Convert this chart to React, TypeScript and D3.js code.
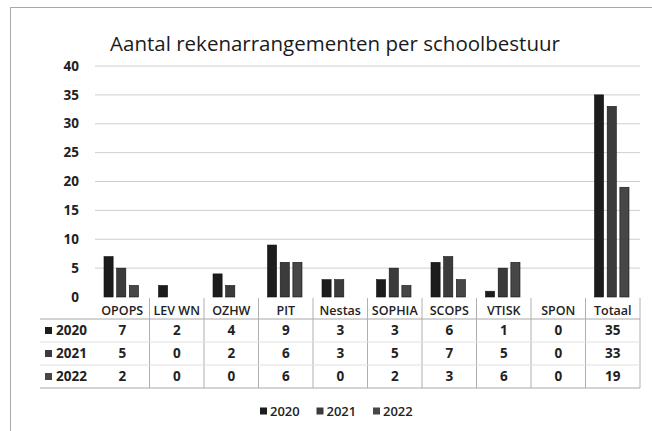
import React from 'react'
import * as d3 from 'd3'

const categories = ['OPOPS', 'LEV WN', 'OZHW', 'PIT', 'Nestas', 'SOPHIA', 'SCOPS', 'VTISK', 'SPON', 'Totaal']
const seriesNames = ['2020', '2021', '2022']
const values2020 = [7, 2, 4, 9, 3, 3, 6, 1, 0, 35]
const values2021 = [5, 0, 2, 6, 3, 5, 7, 5, 0, 33]
const values2022 = [2, 0, 0, 6, 0, 2, 3, 6, 0, 19]
const yTicks = [0, 5, 10, 15, 20, 25, 30, 35, 40]

const seriesValues = [values2020, values2021, values2022]
const colors = ['#1c1c1c', '#3b3b3b', '#474747']

const W = 652
const H = 431
const left = 95
const right = 640
const top = 66
const base = 297
const rowTop = 319
const rowH = 23
const font = "'Open Sans', 'Liberation Sans', sans-serif"

export default function App() {
  const x0 = d3.scaleBand<string>().domain(categories).range([left, right]).padding(0)
  const x1 = d3.scaleBand<string>()
    .domain(seriesNames)
    .range([9, x0.bandwidth() - 11])
    .paddingInner(0.28)
  const y = d3.scaleLinear().domain([0, 40]).range([base, top])

  return (
    <svg width={W} height={H} style={{ position: 'absolute', left: 0, top: 0, background: '#fff' }}
      fontFamily={font}>
      {/* outer frame (cut off at right and bottom) */}
      <line x1={10} x2={W} y1={7.5} y2={7.5} stroke="#a8a8a8" />
      <line x1={10.5} x2={10.5} y1={7} y2={H} stroke="#a8a8a8" />

      <text x={335} y={51} textAnchor="middle" fontSize={20.5} fill="#1a1a1a">
        Aantal rekenarrangementen per schoolbestuur
      </text>

      {/* grid + y labels */}
      {yTicks.map(t => (
        <g key={t}>
          {t > 0 && (
            <line x1={left} x2={right} y1={y(t)} y2={y(t)} stroke="#cfcfcf" strokeWidth={1} />
          )}
          <text x={79} y={y(t)} dy="0.35em" textAnchor="end" fontSize={13.5} fontWeight={700} fill="#222">
            {t}
          </text>
        </g>
      ))}

      {/* bars */}
      {categories.map((c, i) => (
        <g key={c} transform={`translate(${x0(c)},0)`}>
          {seriesNames.map((s, k) => {
            const v = seriesValues[k][i]
            if (!v) return null
            return (
              <rect key={s} x={x1(s)} y={y(v)} width={x1.bandwidth()} height={base - y(v)}
                fill={colors[k]} stroke="#111" strokeWidth={0.6} />
            )
          })}
        </g>
      ))}

      {/* data table */}
      {categories.map((c, i) => (
        <g key={'col' + c}>
          <text x={x0(c)! + x0.bandwidth() / 2} y={311} dy="0.35em" textAnchor="middle"
            fontSize={12.5} fontWeight={600} fill="#222">{c}</text>
          {i > 0 && (
            <line x1={x0(c)} x2={x0(c)} y1={298} y2={rowTop + rowH * 3} stroke="#b0b0b0" />
          )}
          {seriesNames.map((s, k) => (
            <text key={s} x={x0(c)! + x0.bandwidth() / 2} y={rowTop + rowH * k + rowH / 2} dy="0.35em"
              textAnchor="middle" fontSize={13.5} fontWeight={700} fill="#222">
              {seriesValues[k][i]}
            </text>
          ))}
        </g>
      ))}
      <line x1={right} x2={right} y1={298} y2={rowTop + rowH * 3} stroke="#b0b0b0" />
      {[0, 1, 2, 3].map(r => (
        <line key={r} x1={40} x2={right} y1={rowTop + rowH * r} y2={rowTop + rowH * r}
          stroke={r === 0 || r === 3 ? '#a8a8a8' : '#e0e0e0'} />
      ))}
      {seriesNames.map((s, k) => (
        <g key={'row' + s} transform={`translate(45,${rowTop + rowH * k + rowH / 2})`}>
          <rect x={0} y={-3.5} width={7} height={7} fill={colors[k]} />
          <text x={11} dy="0.35em" fontSize={13.5} fontWeight={700} fill="#222">{s}</text>
        </g>
      ))}

      {/* legend */}
      {seriesNames.map((s, k) => (
        <g key={'leg' + s} transform={`translate(${260 + k * 56.5},411)`}>
          <rect x={0} y={-3.5} width={7} height={7} fill={colors[k]} />
          <text x={10} dy="0.35em" fontSize={13} fontWeight={600} fill="#222">{s}</text>
        </g>
      ))}
    </svg>
  )
}
